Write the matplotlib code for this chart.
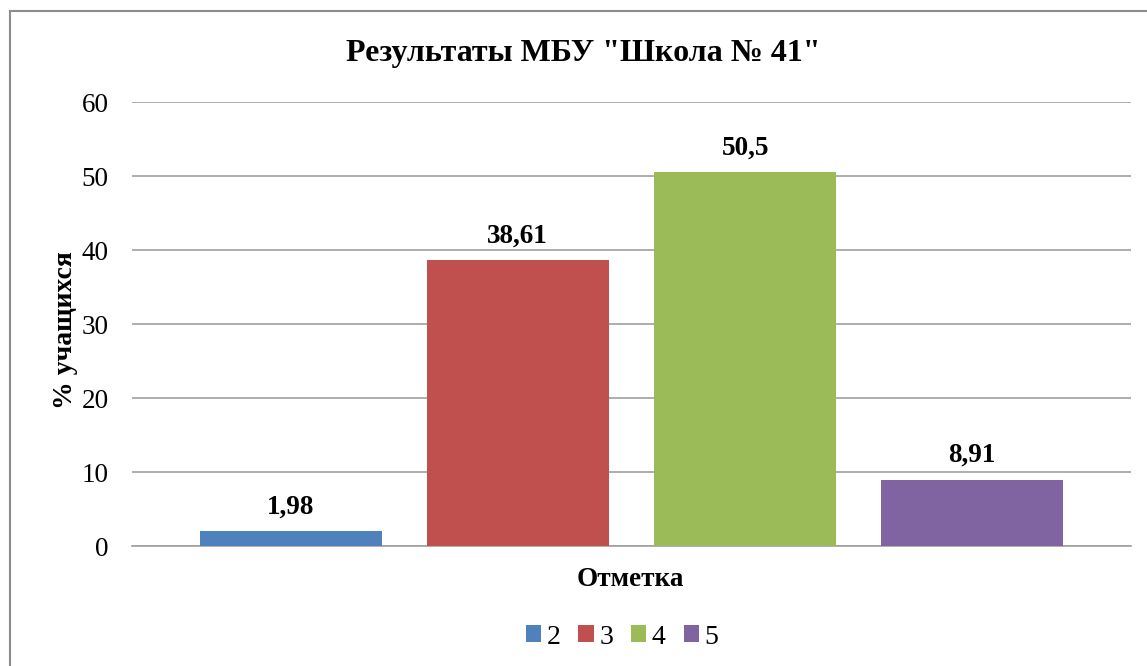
import matplotlib
matplotlib.use('Agg')
import matplotlib.pyplot as plt
from matplotlib.patches import Rectangle, Patch

plt.rcParams['font.family'] = ['Liberation Serif', 'DejaVu Serif']

# ── data ────────────────────────────────────────────────────────────────────
marks  = ['2', '3', '4', '5']
values = [1.98, 38.61, 50.5, 8.91]
labels = ['1,98', '38,61', '50,5', '8,91']
colors = ['#4F81BD', '#C0504D', '#9BBB59', '#8064A2']
yticks = [0, 10, 20, 30, 40, 50, 60]

# ── figure ──────────────────────────────────────────────────────────────────
fig = plt.figure(figsize=(11.47, 6.66), dpi=100)
ax = fig.add_axes([132/1147, 1 - 546/666, (1131 - 132)/1147, (546 - 102)/666])

# outer chart border (runs off right and bottom edges like the source)
fig.patches.append(Rectangle((10/1147, -0.05), 1.2, 1 - 11/666 + 0.05,
                             transform=fig.transFigure, fill=False,
                             edgecolor='#8C8C8C', linewidth=1.5))

xpos = [0.159, 0.386, 0.614, 0.841]
w = 0.182
ax.bar(xpos, values, w, color=colors, zorder=3)
for x, v, lab in zip(xpos, values, labels):
    ax.annotate(lab, (x, v), xytext=(0, 13), textcoords='offset points',
                ha='center', va='baseline', fontsize=19.5, fontweight='bold')

ax.set_xlim(0, 1)
ax.set_ylim(0, 60)
ax.set_yticks(yticks)
ax.set_yticklabels([str(t) for t in yticks], fontsize=19.5)
ax.tick_params(axis='y', length=0, pad=17)
ax.set_xticks([])
ax.yaxis.grid(True, color='#A0A0A0', linewidth=1.2, zorder=0)
for s in ['top', 'right', 'left']:
    ax.spines[s].set_visible(False)
ax.spines['bottom'].set_color('#A0A0A0')
ax.spines['bottom'].set_linewidth(1.2)

fig.text(0.5 * (347 + 820) / 1147, 1 - 53/666, 'Результаты МБУ "Школа № 41"',
         ha='center', va='center', fontsize=23, fontweight='bold')
fig.text(65/1147, 1 - 330/666, '% учащихся', rotation=90,
         ha='center', va='center', fontsize=20, fontweight='bold')
fig.text(630/1147, 1 - 580/666, 'Отметка',
         ha='center', va='center', fontsize=19.5, fontweight='bold')

handles = [Patch(facecolor=c, edgecolor='none') for c in colors]
fig.legend(handles, marks, loc='center', bbox_to_anchor=(622/1147, 1 - 637/666),
           ncol=4, frameon=False, fontsize=20, handlelength=0.55,
           handleheight=0.55, handletextpad=0.2, columnspacing=0.65,
           borderpad=0)

plt.savefig('out.png', dpi=100)
plt.close()
